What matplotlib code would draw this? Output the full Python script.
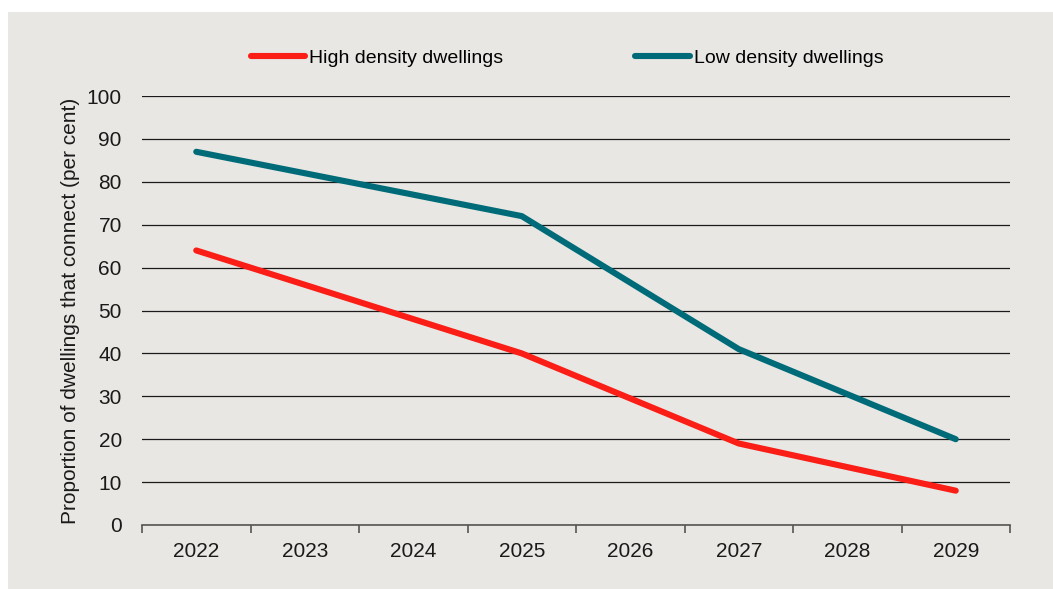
import matplotlib.pyplot as plt
from matplotlib.patches import Rectangle

years = ['2022', '2023', '2024', '2025', '2026', '2027', '2028', '2029']
high_density = [64, 56, 48, 40, 29.5, 19, 13.5, 8]
low_density = [87, 82, 77, 72, 56.5, 41, 30.5, 20]

bg = '#e8e7e3'
red = '#fa1e16'
teal = '#006b78'

plt.rcParams['font.family'] = ['Liberation Sans', 'DejaVu Sans']

W, H = 1053, 589
fig = plt.figure(figsize=(W / 100, H / 100), dpi=100)
fig.patch.set_facecolor('white')
# grey panel behind the chart
fig.patches.append(Rectangle((8 / W, 0), 1 - 8 / W, 1 - 12 / H,
                             transform=fig.transFigure, facecolor=bg,
                             edgecolor='none', zorder=-10))

ax = fig.add_axes([142 / W, 1 - 525 / H, (1010 - 142) / W, (525 - 96) / H])
ax.set_facecolor(bg)

x = range(len(years))
ax.plot(x, high_density, color=red, lw=4.4, solid_capstyle='round',
        label='High density dwellings', zorder=3)
ax.plot(x, low_density, color=teal, lw=4.4, solid_capstyle='round',
        label='Low density dwellings', zorder=3)

ax.set_xlim(-0.5, len(years) - 0.5)
ax.set_ylim(0, 100)
ax.set_yticks(range(0, 101, 10))
ax.yaxis.grid(True, color='#1a1a1a', lw=0.9)
ax.set_axisbelow(True)
ax.tick_params(axis='y', length=0, pad=14.5, labelsize=15, labelcolor='#1a1a1a')

# category labels centred, tick marks on the boundaries
ax.set_xticks(list(x))
ax.set_xticklabels(years)
ax.set_xticks([i - 0.5 for i in range(len(years) + 1)], minor=True)
ax.tick_params(axis='x', which='major', length=0, pad=12, labelsize=15,
               labelcolor='#1a1a1a')
ax.tick_params(axis='x', which='minor', length=6, width=1.2, color='#555555',
               direction='out')

for s in ['top', 'right', 'left']:
    ax.spines[s].set_visible(False)
ax.spines['bottom'].set_color('#555555')
ax.spines['bottom'].set_linewidth(1.2)

ax.set_ylabel('Proportion of dwellings that connect (per cent)', fontsize=15,
              color='#1a1a1a', labelpad=5)

leg = fig.legend(loc='center', bbox_to_anchor=(567 / W, 1 - 58 / H), ncol=2,
                 frameon=False, handlelength=2.8, handletextpad=0.2,
                 columnspacing=6.8, prop={'size': 14})

fig.savefig('out.png', dpi=100, facecolor='white')
